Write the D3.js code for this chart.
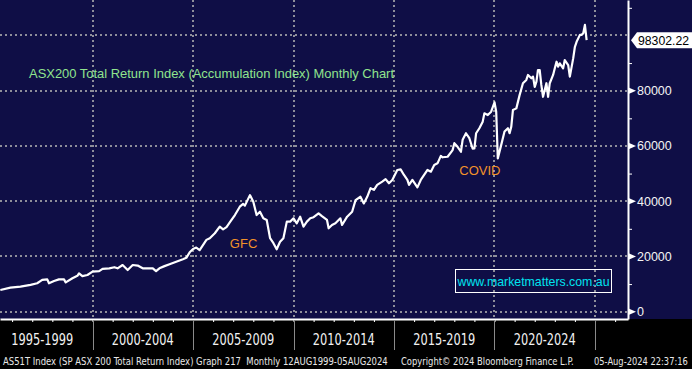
<!DOCTYPE html>
<meta charset="utf-8">
<style>
  body { margin: 0; background: #000; }
  svg { display: block; font-family: "Liberation Sans", Arial, sans-serif; }
</style>
<svg width="692" height="369"></svg>
<script src="https://d3js.org/d3.v7.min.js"></script>
<script>
// monthly closes (index points)
var months = [
  "1995-06","1995-12","1996-06","1996-12","1997-04","1997-07","1997-10","1997-11","1998-02","1998-05",
  "1998-08","1998-09","1999-01","1999-04","1999-05","1999-07","1999-10","2000-01","2000-05","2000-07",
  "2000-11","2001-02","2001-04","2001-07","2001-10","2002-01","2002-04","2002-07","2002-10","2003-01",
  "2003-03","2003-05","2003-08","2003-11","2004-03","2004-07","2004-09","2004-11","2005-01","2005-03",
  "2005-05","2005-09","2005-11","2006-02","2006-05","2006-07","2006-09","2006-12","2007-02","2007-05",
  "2007-07","2007-08","2007-11","2008-01","2008-03","2008-05","2008-07","2008-09","2008-11","2009-01",
  "2009-03","2009-05","2009-07","2009-09","2009-11","2010-01","2010-03","2010-05","2010-07","2010-09",
  "2010-11","2011-01","2011-04","2011-06","2011-09","2011-10","2011-12","2012-02","2012-05","2012-06",
  "2012-09","2012-12","2013-02","2013-05","2013-07","2013-09","2013-11","2014-01","2014-03","2014-06",
  "2014-08","2014-10","2014-12","2015-03","2015-05","2015-07","2015-09","2015-10","2015-12","2016-03",
  "2016-05","2016-07","2016-09","2016-11","2017-01","2017-03","2017-05","2017-06","2017-09","2017-12",
  "2018-01","2018-03","2018-05","2018-06","2018-08","2018-10","2018-12","2019-01","2019-02","2019-04",
  "2019-06","2019-07","2019-09","2019-11","2020-01","2020-02","2020-03","2020-05","2020-07","2020-09",
  "2020-10","2020-11","2020-12","2021-02","2021-04","2021-06","2021-08","2021-09","2021-11","2021-12",
  "2022-01","2022-02","2022-03","2022-04","2022-05","2022-06","2022-08","2022-09","2022-10","2022-12",
  "2023-01","2023-02","2023-03","2023-04","2023-06","2023-07","2023-09","2023-10","2023-12","2024-01",
  "2024-02","2024-04","2024-05","2024-06","2024-07","2024-08"
];
var values = [
  7860,8700,9050,9700,10300,11500,11700,10300,11100,11700,
  11700,10600,12100,13000,13900,12900,13300,14500,14700,15500,
  15700,16100,15700,16900,15100,16900,16700,15700,15700,15700,
  14700,15700,16500,17200,18100,19000,19500,21500,22700,23200,
  22300,26000,26600,28400,30800,29800,30600,33200,35000,38000,
  39000,38400,42200,39800,35000,36200,33800,33200,26600,24800,
  22600,25300,26600,32600,32600,33800,32000,34400,30800,32600,
  33800,34200,35600,34600,33200,30200,31400,32000,33800,31400,
  34400,36200,40400,41600,39200,41600,44700,44100,45900,47100,
  48000,46500,47700,51300,51500,49500,47700,45900,47700,45000,
  47700,49500,51300,50700,53100,53700,56400,55900,56100,58500,
  61000,59700,57900,62200,64600,62800,59000,59100,64600,66400,
  68800,71800,71200,72400,75800,72400,55500,60300,65200,66400,
  64600,67000,73000,73600,78400,82700,83900,85700,84500,85100,
  81400,83300,87500,87500,82100,77800,82700,77800,82700,85700,
  88100,90500,88700,89900,88100,91100,89300,85100,91700,95900,
  97700,100200,100200,100800,103800,98302.22
];
var lastValue = 98302.22;

var yLabelTicks = [0, 20000, 40000, 60000, 80000];
var yGridTicks = [0, 20000, 40000, 60000, 80000, 100000];
var yMinorTicks = [10000, 30000, 50000, 70000, 90000, 110000];
var periodStarts = [1995, 2000, 2005, 2010, 2015, 2020];
var periodLabels = ["1995-1999", "2000-2004", "2005-2009", "2010-2014", "2015-2019", "2020-2024"];
var gridYears = [2000, 2005, 2010, 2015, 2020, 2025];
var events = [
  { label: "GFC", month: "2006-11", value: 23000 },
  { label: "COVID", month: "2018-04", value: 49500 }
];

var svg = d3.select("svg"),
    width = +svg.attr("width"),
    height = +svg.attr("height"),
    plotRight = 628,
    plotBottom = 319;

var parse = d3.timeParse("%Y-%m");
var data = months.map(function(m, i) { return { date: parse(m), value: values[i] }; });

var x = d3.scaleTime()
    .domain([new Date(1995, 4, 26), new Date(2026, 7, 23)])
    .range([0, plotRight]);

var y = d3.scaleLinear()
    .domain([-2643, 112832])
    .range([plotBottom, 0]);

// squeeze a text to a given width (narrow Bloomberg font look)
function squeeze(sel, left, base, w, anchor) {
  sel.each(function(d, i) {
    var t = d3.select(this),
        nat = this.getComputedTextLength(),
        l = typeof left === "function" ? left(d, i) : left,
        ww = typeof w === "function" ? w(d, i) : w,
        k = ww / nat;
    if (anchor === "middle") l = l - ww / 2;
    t.attr("x", 0).attr("y", 0)
     .attr("transform", "translate(" + l + "," + base + ") scale(" + k + ",1)");
  });
}

// backgrounds
svg.append("rect").attr("width", width).attr("height", height).attr("fill", "#000");
svg.append("rect").attr("width", width).attr("height", plotBottom).attr("fill", "#0f0e46");

// dotted grid
var grid = svg.append("g")
    .attr("stroke", "#8e8e9a")
    .attr("stroke-width", 2)
    .attr("stroke-dasharray", "2,3");

grid.selectAll(".h").data(yGridTicks).enter().append("line")
    .attr("x1", 0).attr("x2", plotRight)
    .attr("y1", function(d) { return Math.round(y(d)); })
    .attr("y2", function(d) { return Math.round(y(d)); });

grid.selectAll(".v").data(gridYears).enter().append("line")
    .attr("x1", function(d) { return Math.round(x(new Date(d, 0, 1))); })
    .attr("x2", function(d) { return Math.round(x(new Date(d, 0, 1))); })
    .attr("y1", 0).attr("y2", plotBottom);

// title
svg.append("text")
    .attr("x", 29).attr("y", 78)
    .attr("fill", "#90e48e")
    .attr("font-size", 13)
    .attr("textLength", 365)
    .attr("lengthAdjust", "spacingAndGlyphs")
    .text("ASX200 Total Return Index (Accumulation Index) Monthly Chart");

// watermark
svg.append("rect")
    .attr("x", 455.5).attr("y", 269.5).attr("width", 156).attr("height", 23)
    .attr("fill", "none").attr("stroke", "#fff").attr("stroke-width", 1);
svg.append("text")
    .attr("x", 457.5).attr("y", 285.5)
    .attr("fill", "#00e4f0")
    .attr("font-size", 13)
    .attr("textLength", 152)
    .attr("lengthAdjust", "spacingAndGlyphs")
    .text("www.marketmatters.com.au");

// price line
svg.append("path")
    .datum(data)
    .attr("fill", "none")
    .attr("stroke", "#fff")
    .attr("stroke-width", 2.2)
    .attr("stroke-linejoin", "round")
    .attr("d", d3.line()
        .x(function(d) { return x(d.date); })
        .y(function(d) { return y(d.value); }));

// event labels
svg.selectAll(".event").data(events).enter().append("text")
    .attr("x", function(d) { return x(parse(d.month)); })
    .attr("y", function(d) { return y(d.value); })
    .attr("fill", "#f2922a")
    .attr("font-size", 13)
    .text(function(d) { return d.label; });

// bottom axis
var xAxis = svg.append("g")
    .attr("transform", "translate(0," + plotBottom + ")")
    .call(d3.axisBottom(x).ticks(d3.timeYear.every(1)).tickSize(3).tickSizeOuter(0).tickFormat(""));
xAxis.select(".domain").attr("stroke", "#fff").attr("stroke-width", 2);
xAxis.selectAll(".tick line").attr("stroke", "#fff");

svg.append("g").selectAll("line").data(gridYears).enter().append("line")
    .attr("x1", function(d) { return Math.round(x(new Date(d, 0, 1))) + 0.5; })
    .attr("x2", function(d) { return Math.round(x(new Date(d, 0, 1))) + 0.5; })
    .attr("y1", plotBottom + 1).attr("y2", 350)
    .attr("stroke", "#8a8a8a");

svg.append("g").selectAll("text").data(periodStarts).enter().append("text")
    .attr("fill", "#f2f2f2")
    .attr("font-family", "'DejaVu Sans Condensed', 'DejaVu Sans', sans-serif")
    .attr("font-size", 15)
    .text(function(d, i) { return periodLabels[i]; })
    .call(squeeze, function(d) { return (x(new Date(d, 0, 1)) + x(new Date(d + 5, 0, 1))) / 2; },
          345, 62, "middle");

// right axis
var yAxis = svg.append("g")
    .attr("transform", "translate(" + plotRight + ",0)")
    .call(d3.axisRight(y).tickValues(yMinorTicks).tickSize(4).tickSizeOuter(0).tickFormat(""));
yAxis.select(".domain").attr("stroke", "#fff").attr("stroke-width", 2);
yAxis.selectAll(".tick line").attr("stroke", "#fff");

var majors = svg.append("g").selectAll("g").data(yLabelTicks).enter().append("g")
    .attr("transform", function(d) { return "translate(" + plotRight + "," + y(d) + ")"; });
majors.append("path").attr("d", "M0,-3.5L8,0L0,3.5Z").attr("fill", "#fff");
majors.append("text")
    .attr("x", 9).attr("dy", "0.36em")
    .attr("fill", "#f4f4f4")
    .attr("font-size", 12.5)
    .text(function(d) { return d; });

// last price flag
var ly = y(lastValue);
svg.append("path")
    .attr("d", "M631," + ly + "L637," + (ly - 8) + "L692," + (ly - 8) + "L692," + (ly + 8) + "L637," + (ly + 8) + "Z")
    .attr("fill", "#fff");
svg.append("text")
    .attr("x", 638).attr("y", ly).attr("dy", "0.36em")
    .attr("fill", "#000")
    .attr("font-size", 12.5)
    .attr("textLength", 51)
    .attr("lengthAdjust", "spacingAndGlyphs")
    .text(d3.format(".2f")(lastValue));

// footer
var footerText = [
  "AS51T Index (SP ASX 200 Total Return Index) Graph 217  Monthly 12AUG1999-05AUG2024",
  "Copyright\u00a9 2024 Bloomberg Finance L.P.",
  "05-Aug-2024 22:37:16"
];
var footerLeft = [3, 401, 594],
    footerWidth = [385, 173, 94];
svg.append("g").selectAll("text").data(footerText).enter().append("text")
    .attr("fill", "#e8e8e8")
    .attr("font-family", "'DejaVu Sans Condensed', 'DejaVu Sans', sans-serif")
    .attr("font-size", 11)
    .attr("xml:space", "preserve")
    .text(function(d) { return d; })
    .call(squeeze, function(d, i) { return footerLeft[i]; }, 365,
          function(d, i) { return footerWidth[i]; });
</script>
